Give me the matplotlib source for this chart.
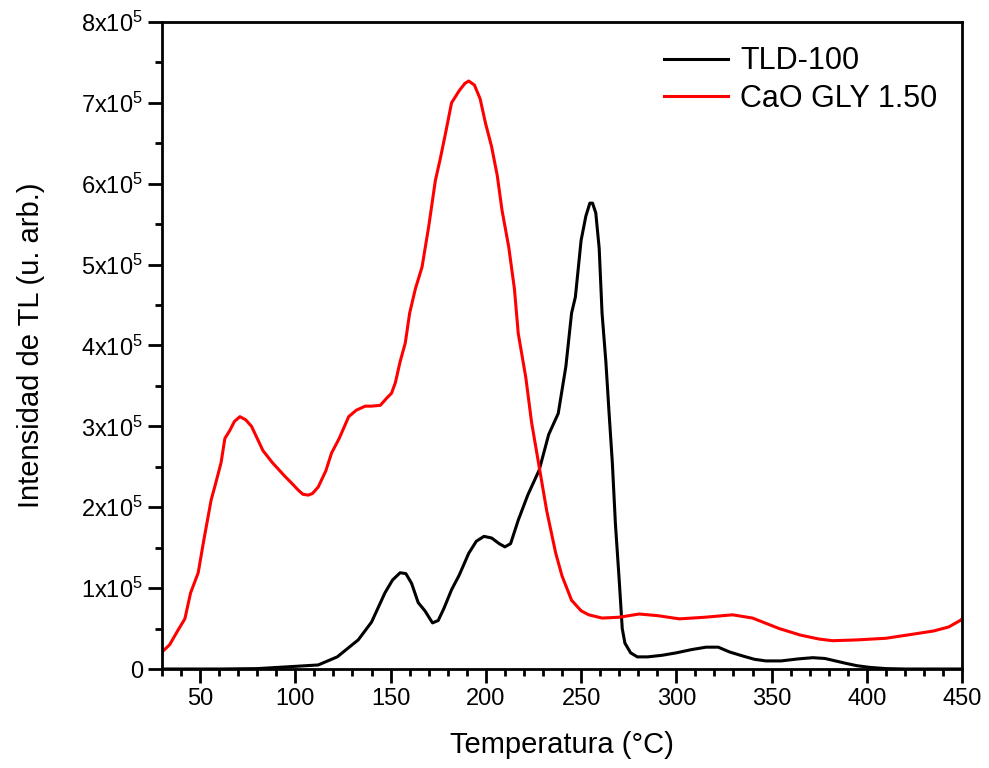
import matplotlib
matplotlib.use("Agg")
import matplotlib.pyplot as plt
from matplotlib.ticker import MultipleLocator, FixedLocator

plt.rcParams['font.family'] = ['Liberation Sans', 'DejaVu Sans']
plt.rcParams['mathtext.default'] = 'regular'

# TLD-100 glow curve (temperature in °C, intensity in u. arb.)
temp_tld = [30, 60, 80, 98, 112, 122, 133, 140, 147, 151, 155, 158, 161, 164.5,
            168, 172, 175, 178, 182, 186, 191, 195, 199, 203, 207, 210, 213,
            217, 222, 228, 233, 238, 242, 245, 247, 250, 252.5, 254.6, 256,
            257.7, 259.5, 261, 263, 264.7, 266.4, 268, 270, 271.6, 273, 276,
            279.5, 285, 292.6, 300, 308, 315.6, 322, 328, 335, 341, 347, 355,
            364, 371.6, 378, 389, 395, 401.6, 410, 420, 450]
int_tld = [0, 0, 500, 3000, 5000, 15000, 36000, 58000, 94000, 110000, 119000,
           118000, 106000, 82000, 72000, 57000, 60000, 75000, 98000, 116000,
           143000, 158000, 164000, 162000, 155000, 151000, 155000, 184000,
           215000, 246000, 290000, 316000, 374000, 440000, 460000, 530000,
           560000, 576000, 576000, 564000, 520000, 440000, 380000, 316000,
           255000, 180000, 110000, 50000, 32000, 20000, 15000, 15000, 17000,
           20000, 24000, 27000, 27000, 21000, 16000, 12000, 10000, 10000,
           12500, 14000, 13000, 7000, 4000, 2000, 500, 0, 0]

# CaO GLY 1.50 glow curve
temp_cao = [30, 34, 38.4, 42, 45, 49, 52, 55.8, 58, 61, 63, 65.6, 68, 70.9,
            74, 77, 80, 83, 88, 94.6, 98, 101.6, 104, 106.8, 109, 112, 116,
            119, 123, 128, 132, 136.7, 140, 144.6, 148, 150.5, 152.5, 155,
            157.7, 160, 163, 166.5, 170, 173.5, 176, 178.8, 182, 186, 189,
            191, 194, 197, 199.8, 203, 206, 208.5, 212, 215, 217, 221, 224,
            228, 232, 236.7, 240, 245, 250, 254, 261, 270, 280.5, 290, 301.6,
            315, 329.5, 340, 354, 365, 375, 382, 395, 410, 424, 435, 443, 449, 450]
int_cao = [21000, 30000, 48000, 62000, 94000, 119000, 160000, 209000, 228000,
           255000, 285000, 295000, 306000, 312000, 308000, 300000, 285000,
           270000, 255000, 238000, 230000, 221000, 216000, 215000, 217000,
           225000, 245000, 267000, 285000, 312000, 320000, 325000, 325000,
           326000, 335000, 341000, 354000, 380000, 403000, 440000, 470000,
           497000, 547000, 604000, 630000, 662000, 700000, 715000, 724000,
           727000, 722000, 705000, 675000, 646000, 610000, 567000, 522000,
           470000, 415000, 360000, 305000, 250000, 195000, 143000, 115000,
           85000, 72000, 67000, 63000, 64000, 68000, 66000, 62000, 64000,
           67000, 63000, 50000, 42000, 37000, 35000, 36000, 38000, 43000,
           47000, 52000, 60000, 62000]

x_ticks = [50, 100, 150, 200, 250, 300, 350, 400, 450]
y_ticks = [0, 1e5, 2e5, 3e5, 4e5, 5e5, 6e5, 7e5, 8e5]
y_labels = ['0'] + ['%dx10$^{5}$' % k for k in range(1, 9)]

fig = plt.figure(figsize=(9.89, 7.68), dpi=100)
ax = fig.add_axes([0.1638, 0.1289, 0.809, 0.8425])

ax.plot(temp_tld, int_tld, color='black', lw=2.2, label='TLD-100')
ax.plot(temp_cao, int_cao, color='#ff0000', lw=2.2, label='CaO GLY 1.50')

ax.set_xlim(30, 450)
ax.set_ylim(0, 8e5)
ax.xaxis.set_major_locator(FixedLocator(x_ticks))
ax.xaxis.set_minor_locator(MultipleLocator(10))
ax.yaxis.set_major_locator(FixedLocator(y_ticks))
ax.yaxis.set_minor_locator(MultipleLocator(5e4))
ax.set_yticklabels(y_labels)

ax.tick_params(which='major', direction='out', length=10, width=2,
               labelsize=17, top=False, right=False)
ax.tick_params(which='minor', direction='out', length=5, width=2,
               top=False, right=False)
for s in ax.spines.values():
    s.set_linewidth(2)

ax.set_xlabel('Temperatura (°C)', fontsize=21, labelpad=15)
ax.set_ylabel('Intensidad de TL (u. arb.)', fontsize=21, labelpad=26)

ax.legend(loc='upper right', frameon=False, fontsize=22, handlelength=2.1,
          handletextpad=0.4, labelspacing=0.25, borderaxespad=0.4)

fig.savefig('out.png', dpi=100)
